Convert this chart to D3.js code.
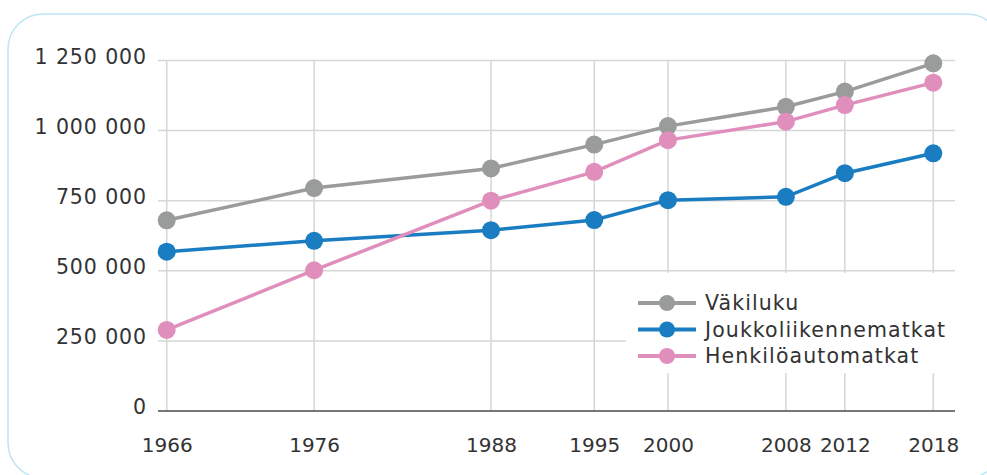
<!DOCTYPE html>
<html>
<head>
<meta charset="utf-8">
<script src="https://cdn.jsdelivr.net/npm/d3@7"></script>
<style>
  html, body { margin: 0; padding: 0; background: #fff; }
  svg { display: block; font-family: "DejaVu Sans", sans-serif; }
</style>
</head>
<body>
<div id="chartContainer"></div>
<script>
const years = [1966, 1976, 1988, 1995, 2000, 2008, 2012, 2018];
const vakiluku = [680000, 795000, 865000, 950000, 1016000, 1085000, 1139000, 1240000];
const joukkoliikenne = [568000, 607000, 645000, 681000, 752000, 764000, 848000, 919000];
const henkiloauto = [289000, 502000, 750000, 853000, 966000, 1032000, 1091000, 1171000];
const seriesNames = ["Väkiluku", "Joukkoliikennematkat", "Henkilöautomatkat"];
const seriesColors = ["#9a9c9c", "#1a7cc1", "#e08fbd"];
const yTicks = [0, 250000, 500000, 750000, 1000000, 1250000];

const width = 987;
const height = 475;
const plotLeft = 158;
const plotRight = 955;

const x = d3.scaleLinear()
  .domain([1966, 2018])
  .range([166.7, 933.3]);

const y = d3.scaleLinear()
  .domain([0, 1250000])
  .range([411, 60.5]);

const fmt = d3.formatLocale({ decimal: ",", thousands: " ", grouping: [3], currency: ["", "€"] }).format(",d");

const svg = d3.create("svg")
  .attr("width", width)
  .attr("height", height)
  .attr("viewBox", [0, 0, width, height]);

document.getElementById("chartContainer").appendChild(svg.node());

// rounded frame
svg.append("rect")
  .attr("x", 8)
  .attr("y", 14)
  .attr("width", 994)
  .attr("height", 464)
  .attr("rx", 35)
  .attr("fill", "none")
  .attr("stroke", "#bfe5f5")
  .attr("stroke-width", 1.5);

// horizontal grid
svg.append("g")
  .selectAll("line")
  .data(yTicks.filter(d => d > 0))
  .join("line")
  .attr("x1", plotLeft)
  .attr("x2", plotRight)
  .attr("y1", d => y(d))
  .attr("y2", d => y(d))
  .attr("stroke", "#d6d6d6")
  .attr("stroke-width", 1.5);

// vertical grid
svg.append("g")
  .selectAll("line")
  .data(years)
  .join("line")
  .attr("x1", d => x(d))
  .attr("x2", d => x(d))
  .attr("y1", y(1250000))
  .attr("y2", y(0))
  .attr("stroke", "#d6d6d6")
  .attr("stroke-width", 1.5);

// zero line
svg.append("line")
  .attr("x1", plotLeft)
  .attr("x2", plotRight)
  .attr("y1", y(0))
  .attr("y2", y(0))
  .attr("stroke", "#4a4a4a")
  .attr("stroke-width", 1.5);

// y axis labels
svg.append("g")
  .attr("transform", `translate(147,0)`)
  .call(d3.axisLeft(y).tickValues(yTicks).tickFormat(fmt).tickSize(0).tickPadding(0))
  .call(g => g.select(".domain").remove())
  .selectAll("text")
  .attr("dy", "0.32em")
  .attr("y", -4)
  .style("font-family", "DejaVu Sans, sans-serif")
  .style("font-size", "20.5px")
  .style("letter-spacing", "0.9px")
  .style("fill", "#333");

// x axis labels
svg.append("g")
  .attr("transform", `translate(0,${y(0)})`)
  .call(d3.axisBottom(x).tickValues(years).tickFormat(d3.format("d")).tickSize(0).tickPadding(27))
  .call(g => g.select(".domain").remove())
  .selectAll("text")
  .style("font-family", "DejaVu Sans, sans-serif")
  .style("font-size", "20px")
  .style("fill", "#333");

// legend
const legend = svg.append("g");
legend.append("rect")
  .attr("x", 626)
  .attr("y", 273)
  .attr("width", 334)
  .attr("height", 100)
  .attr("fill", "#fff");

const legendRows = [303, 329.5, 356];
seriesNames.forEach((name, i) => {
  const gy = legendRows[i];
  legend.append("line")
    .attr("x1", 638).attr("x2", 696)
    .attr("y1", gy).attr("y2", gy)
    .attr("stroke", seriesColors[i])
    .attr("stroke-width", 4);
  legend.append("circle")
    .attr("cx", 667).attr("cy", gy).attr("r", 8)
    .attr("fill", seriesColors[i]);
  legend.append("text")
    .attr("x", 705).attr("y", gy)
    .attr("dy", "0.36em")
    .style("font-size", "20.5px")
    .style("letter-spacing", "1.1px")
    .style("fill", "#333")
    .text(name);
});

// series
const allSeries = [vakiluku, joukkoliikenne, henkiloauto];
const line = d3.line()
  .x((d, i) => x(years[i]))
  .y(d => y(d));

allSeries.forEach((vals, i) => {
  const g = svg.append("g");
  g.append("path")
    .datum(vals)
    .attr("d", line)
    .attr("fill", "none")
    .attr("stroke", seriesColors[i])
    .attr("stroke-width", 3.5);
  g.selectAll("circle")
    .data(vals)
    .join("circle")
    .attr("cx", (d, j) => x(years[j]))
    .attr("cy", d => y(d))
    .attr("r", 9)
    .attr("fill", seriesColors[i]);
});
</script>
</body>
</html>
